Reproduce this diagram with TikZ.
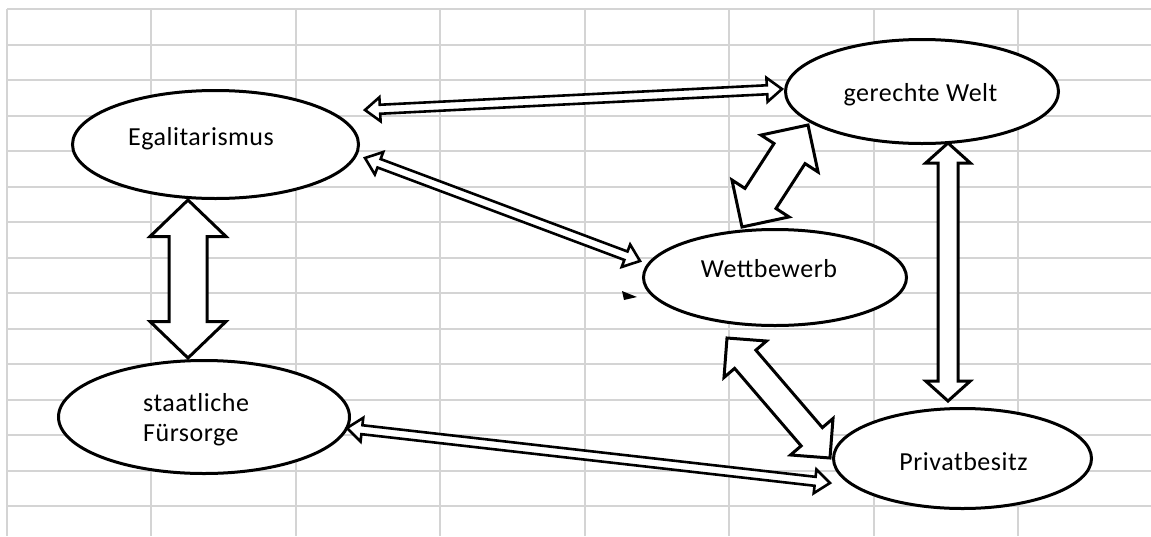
\documentclass[tikz,border=0pt]{standalone}
\usepackage{fontspec}
\setmainfont{Carlito}[LetterSpace=2]
\usetikzlibrary{shapes.geometric,calc}

\definecolor{gridgray}{RGB}{212,212,212}

\tikzset{
  gridline/.style={draw=gridgray, line width=2pt},
  bubble/.style={ellipse, draw=black, line width=3pt, fill=white,
                 inner sep=0pt, outer sep=0pt},
  caption/.style={font=\fontsize{26}{30}\selectfont, inner sep=0pt, anchor=base},
  blockarrow/.style={draw=black, fill=white, line width=3pt, line join=miter},
  slimarrow/.style={draw=black, fill=white, line width=2.6pt, line join=miter},
}

% Hollow double-headed block arrow between two tips.
% #1 style, #2 tip A, #3 tip B, #4 shaft half width, #5 head half width, #6 head length (pt)
\newcommand\dblarrow[6]{%
  \path let \p1=(#2), \p2=(#3),
            \n1={atan2(\y2-\y1,\x2-\x1)},
            \n2={veclen(\x2-\x1,\y2-\y1)} in
    \pgfextra{\xdef\arrAng{\n1}\xdef\arrLen{\n2}};
  \pgfmathsetmacro\arrA{\arrAng}%
  \pgfmathsetmacro\arrL{\arrLen}%
  \pgfmathsetmacro\arrB{\arrL-#6}%
  \begin{scope}[shift={(#2)}, rotate=\arrA]
    \draw[#1] (0pt,0pt) -- (#6pt,#5pt) -- (#6pt,#4pt) -- (\arrB pt,#4pt)
      -- (\arrB pt,#5pt) -- (\arrL pt,0pt) -- (\arrB pt,-#5pt)
      -- (\arrB pt,-#4pt) -- (#6pt,-#4pt) -- (#6pt,-#5pt) -- cycle;
  \end{scope}
}

\begin{document}
\begin{tikzpicture}[x=1pt, y=-1pt]
  \useasboundingbox (0,0) rectangle (1151,536);
  \fill[white] (0,0) rectangle (1151,536);

  % spreadsheet cell grid
  \foreach \k in {0,...,14} {
    \draw[gridline] (7,{9+35.5*\k}) -- (1151,{9+35.5*\k});
  }
  \foreach \k in {0,...,7} {
    \draw[gridline] ({7+144.43*\k},9) -- ({7+144.43*\k},536);
  }

  % concept bubbles
  \node[bubble, minimum width=286pt, minimum height=108pt] (egal)  at (215.5,144.5) {};
  \node[bubble, minimum width=291pt, minimum height=113pt] (staat) at (204,417) {};
  \node[bubble, minimum width=273pt, minimum height=104pt] (welt)  at (922,91.5) {};
  \node[bubble, minimum width=263pt, minimum height=96pt]  (wett)  at (775,277.5) {};
  \node[bubble, minimum width=258pt, minimum height=100pt] (priv)  at (962.5,458.5) {};

  % arrow tips
  \coordinate (egalA)  at (365,110);
  \coordinate (weltA)  at (782,89);
  \coordinate (egalB)  at (365,158);
  \coordinate (wettB)  at (640,261);
  \coordinate (staatC) at (347,428);
  \coordinate (privC)  at (830,483);
  \coordinate (egalD)  at (188,200);
  \coordinate (staatD) at (188,358);
  \coordinate (weltE)  at (948,143);
  \coordinate (privE)  at (948,401);
  \coordinate (weltF)  at (808,125);
  \coordinate (wettF)  at (742,227);
  \coordinate (wettG)  at (727,338);
  \coordinate (privG)  at (830,458);

  % relations
  \dblarrow{slimarrow}{egalA}{weltA}{4.5}{12}{15}
  \dblarrow{slimarrow}{egalB}{wettB}{4.5}{12}{15}
  \dblarrow{slimarrow}{staatC}{privC}{4.5}{12}{15}
  \dblarrow{blockarrow}{egalD}{staatD}{19}{38}{36.5}
  \dblarrow{blockarrow}{weltE}{privE}{10}{22.3}{20}
  \dblarrow{blockarrow}{weltF}{wettF}{18.5}{34}{34}
  \dblarrow{blockarrow}{wettG}{privG}{14}{28}{28}

  % small stray arrowhead
  \fill[black] (622,291) -- (637,297) -- (624,300) -- cycle;

  % labels
  \node[caption] (tEgal)  at (201,145)   {Egalitarismus};
  \node[caption] (tWelt)  at (920.5,101) {gerechte Welt};
  \node[caption] (tWett)  at (769,277)   {Wettbewerb};
  \node[caption] (tPriv)  at (963.5,470) {Privatbesitz};
  \node[caption, anchor=base west] (tStaatA) at (143,411) {staatliche};
  \node[caption, anchor=base west] (tStaatB) at (143,441) {Fürsorge};
\end{tikzpicture}
\end{document}
